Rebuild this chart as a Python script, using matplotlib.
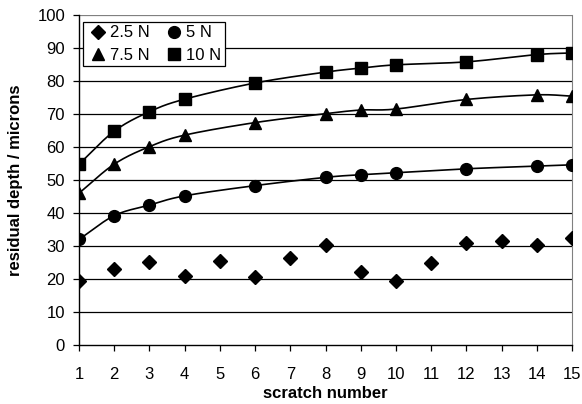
import matplotlib
matplotlib.use("Agg")
import matplotlib.pyplot as plt
import numpy as np

plt.rcParams['font.family'] = ['Liberation Sans', 'DejaVu Sans']

# scratch numbers
scratch = list(range(1, 16))
depth_2_5 = [19.4, 23.0, 25.1, 21.0, 25.5, 20.6, 26.3, 30.3, 22.0, 19.5, 25.0, 31.0, 31.6, 30.3, 32.3]

# the loaded series were only measured on some scratches
scratch_sub = [1, 2, 3, 4, 6, 8, 9, 10, 12, 14, 15]
depth_5 = [32.0, 39.2, 42.4, 45.2, 48.3, 50.8, 51.6, 52.2, 53.4, 54.2, 54.6]
depth_7_5 = [46.0, 54.8, 60.1, 63.6, 67.4, 70.1, 71.2, 71.5, 74.4, 75.8, 75.4]
depth_10 = [54.8, 64.8, 70.7, 74.5, 79.4, 82.7, 83.9, 84.9, 85.8, 88.0, 88.5]


def smooth(x, y, n=20):
    # excel-like smoothed line (catmull-rom through the points)
    x = np.asarray(x, float)
    y = np.asarray(y, float)
    px = np.concatenate([[2 * x[0] - x[1]], x, [2 * x[-1] - x[-2]]])
    py = np.concatenate([[2 * y[0] - y[1]], y, [2 * y[-1] - y[-2]]])
    xs, ys = [], []
    t = np.linspace(0, 1, n)
    for i in range(1, len(px) - 2):
        for p, out in ((px, xs), (py, ys)):
            p0, p1, p2, p3 = p[i - 1], p[i], p[i + 1], p[i + 2]
            out.extend(0.5 * ((2 * p1) + (-p0 + p2) * t
                              + (2 * p0 - 5 * p1 + 4 * p2 - p3) * t ** 2
                              + (-p0 + 3 * p1 - 3 * p2 + p3) * t ** 3))
    return xs, ys


fig = plt.figure(figsize=(5.82, 4.04), dpi=100)
ax = fig.add_axes([79 / 582, 1 - 345 / 404, (572 - 79) / 582, (345 - 15) / 404])

for yv in range(10, 101, 10):
    ax.axhline(yv, color='black' if yv < 100 else '#808080', lw=0.9, zorder=1)

for d in (depth_5, depth_7_5, depth_10):
    sx, sy = smooth(scratch_sub, d)
    ax.plot(sx, sy, color='black', lw=1.2, zorder=2)

h1, = ax.plot(scratch, depth_2_5, 'D', color='black', ms=7, ls='none', label='2.5 N', zorder=3)
h2, = ax.plot(scratch_sub, depth_5, 'o', color='black', ms=8.5, ls='none', label='5 N', zorder=3)
h3, = ax.plot(scratch_sub, depth_7_5, '^', color='black', ms=9, ls='none', label='7.5 N', zorder=3)
h4, = ax.plot(scratch_sub, depth_10, 's', color='black', ms=8, ls='none', label='10 N', zorder=3)

ax.set_xlim(1, 15)
ax.set_ylim(0, 100)
ax.set_xticks(scratch)
ax.set_yticks(range(0, 101, 10))
ax.tick_params(labelsize=12, length=4, width=0.9, color='black')
ax.tick_params(axis='x', pad=12)
ax.tick_params(axis='y', pad=6)
for s in ('left', 'bottom'):
    ax.spines[s].set_color('black')
    ax.spines[s].set_linewidth(1.0)
ax.spines['top'].set_visible(False)
ax.spines['right'].set_color('#808080')

ax.set_xlabel('scratch number', fontsize=12, fontweight='bold', labelpad=3)
ax.set_ylabel('residual depth / microns', fontsize=12, fontweight='bold', labelpad=10)

# legend fills column-wise, so order handles to get 2.5/5 on the first row
leg = ax.legend([h1, h3, h2, h4], ['2.5 N', '7.5 N', '5 N', '10 N'],
                loc='upper left', ncol=2, fontsize=12, frameon=True, fancybox=False,
                edgecolor='black', framealpha=1, handlelength=1.4, handletextpad=0.0,
                columnspacing=0.8, borderpad=0.2, labelspacing=0.45,
                bbox_to_anchor=(4 / 493, 1 - 7 / 330), borderaxespad=0)
leg.get_frame().set_linewidth(0.9)

fig.savefig('out.png', dpi=100)
